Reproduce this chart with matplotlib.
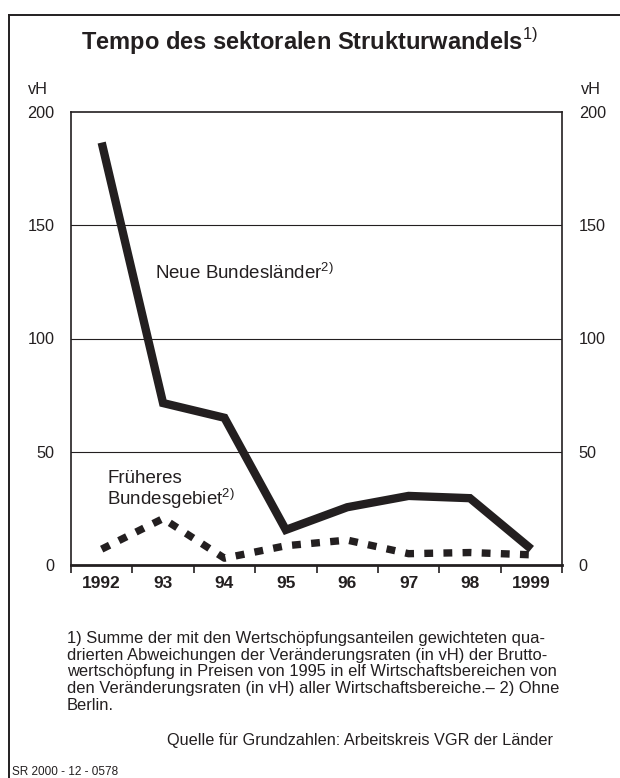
import matplotlib
matplotlib.use("Agg")
import matplotlib.pyplot as plt
from matplotlib.lines import Line2D

plt.rcParams["font.family"] = ["Liberation Sans", "DejaVu Sans"]
plt.rcParams["mathtext.fontset"] = "custom"
plt.rcParams["mathtext.rm"] = "Liberation Sans"
plt.rcParams["mathtext.bf"] = "Liberation Sans:bold"

# ─── Data ─────────────────────────────────────────────────────────────────────
years = ["1992", "93", "94", "95", "96", "97", "98", "1999"]
neue_bl = [186.5, 71.5, 65.0, 15.5, 25.5, 30.5, 29.5, 7.0]
frueheres_bg = [7.0, 20.5, 3.0, 8.5, 11.0, 5.0, 5.5, 4.5]
y_ticks = [0, 50, 100, 150, 200]

footnote = ("1) Summe der mit den Wertschöpfungsanteilen gewichteten qua-\n"
            "drierten Abweichungen der Veränderungsraten (in vH) der Brutto-\n"
            "wertschöpfung in Preisen von 1995 in elf Wirtschaftsbereichen von\n"
            "den Veränderungsraten (in vH) aller Wirtschaftsbereiche.– 2) Ohne\n"
            "Berlin.")

INK = "#231f20"
W, H = 620, 778
fig = plt.figure(figsize=(W / 100, H / 100), dpi=100)

# outer frame (left + top only visible)
fig.add_artist(Line2D([8.5 / W, 8.5 / W], [0, 1 - 15 / H], color=INK,
                      lw=1.4, transform=fig.transFigure))
fig.add_artist(Line2D([8.5 / W, 1], [1 - 15 / H, 1 - 15 / H], color=INK,
                      lw=1.4, transform=fig.transFigure))

ax = fig.add_axes([71 / W, 1 - 565 / H, 491 / W, 453 / H])
x = list(range(len(years)))

ax.plot(x, neue_bl, color=INK, lw=6, solid_joinstyle="miter",
        solid_capstyle="butt", zorder=3)
ax.plot(x, frueheres_bg, color=INK, lw=5.3, linestyle=(0, (1.2, 1.4)),
        dash_capstyle="butt", zorder=3)

ax.set_xlim(-0.5, len(years) - 0.5)
ax.set_ylim(0, 200)
ax.set_yticks(y_ticks)
ax.set_yticklabels([str(v) for v in y_ticks], fontsize=11.7)
ax.tick_params(axis="y", length=0, pad=12, labelright=True, colors=INK)
for v in y_ticks[1:-1]:
    ax.axhline(v, color=INK, lw=0.8, zorder=1)

ax.set_xticks(x)
ax.set_xticklabels(years, fontsize=12.5, fontweight="bold")
ax.set_xticks([i - 0.5 for i in range(len(years) + 1)], minor=True)
ax.tick_params(axis="x", which="major", length=0, pad=8, colors=INK)
ax.tick_params(axis="x", which="minor", length=6, width=1.2, direction="out",
               color=INK)

for side in ["left", "right", "top"]:
    ax.spines[side].set_linewidth(1.2)
    ax.spines[side].set_color(INK)
ax.spines["bottom"].set_linewidth(2)
ax.spines["bottom"].set_color(INK)

ax.text(0.87, 126.4, r"Neue Bundesländer$^{\mathrm{2)}}$", fontsize=13.5,
        color=INK, va="baseline", ha="left")
ax.text(0.09, 36.2, "Früheres", fontsize=13.5, color=INK,
        va="baseline", ha="left")
ax.text(0.09, 26.6, r"Bundesgebiet$^{\mathrm{2)}}$", fontsize=13.5, color=INK,
        va="baseline", ha="left")

# title
fig.text(0.5, 1 - 42 / H, r"Tempo des sektoralen Strukturwandels$^{\mathrm{1)}}$",
         ha="center", va="center", fontsize=17, fontweight="bold", color=INK)
fig.text(38 / W, 1 - 89 / H, "vH", ha="center", va="center", fontsize=11.7,
         color=INK)
fig.text(591 / W, 1 - 89 / H, "vH", ha="center", va="center", fontsize=11.7,
         color=INK)

fig.text(67 / W, 1 - 631 / H, footnote, ha="left", va="top", fontsize=11.9,
         color=INK, linespacing=1.14)
fig.text(553 / W, 1 - 741 / H, "Quelle für Grundzahlen: Arbeitskreis VGR der Länder",
         ha="right", va="center", fontsize=11.7, color=INK)
fig.text(12 / W, 1 - 772 / H, "SR 2000 - 12 - 0578", ha="left", va="center",
         fontsize=8.5, color=INK)

fig.savefig("out.png", dpi=100, facecolor="white")
